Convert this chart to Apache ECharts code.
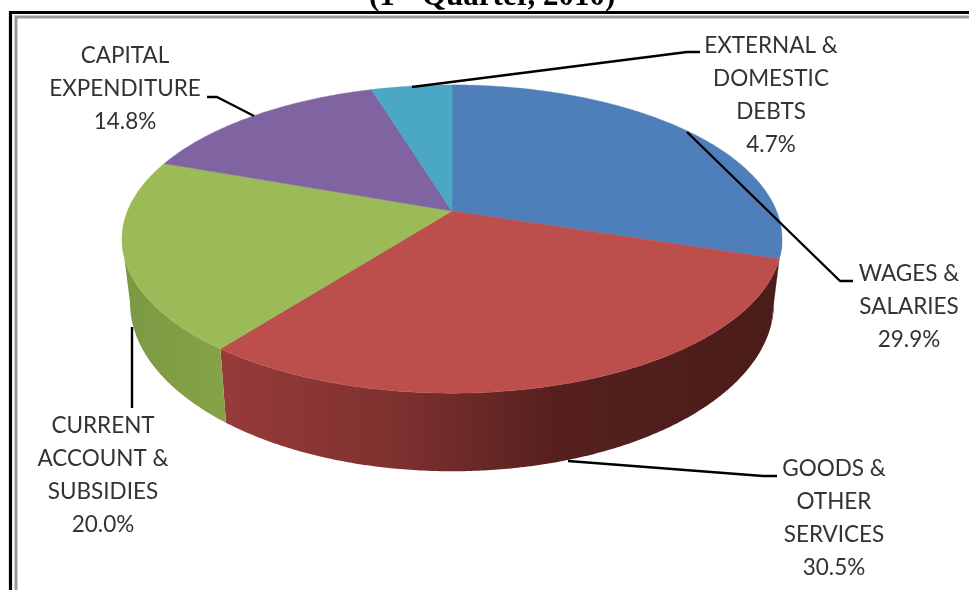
<!DOCTYPE html>
<html><head><meta charset="utf-8">
<style>html,body{margin:0;padding:0;background:#fff}#c{width:969px;height:590px}</style>
<script src="https://cdn.jsdelivr.net/npm/echarts@6/dist/echarts.min.js"></script>
</head><body><div id="c"></div>
<script>
// ---- data ----
const categories = ['WAGES &\nSALARIES','GOODS &\nOTHER\nSERVICES','CURRENT\nACCOUNT &\nSUBSIDIES','CAPITAL\nEXPENDITURE','EXTERNAL &\nDOMESTIC\nDEBTS'];
const values = [29.9, 30.5, 20.0, 14.8, 4.7];
const titleText = ['(1','st','Quarter, 2010)'];

// ---- styling ----
const topColors = ['#4f7fbb','#bc4f4c','#9bbb59','#8064a2','#4ba8c4'];
const wallStops = [
  [[0,'#4a1c1a'],[1,'#4a1c1a']],
  [[0,'#963b39'],[0.3,'#7f3230'],[0.6,'#56201e'],[1,'#4a1c1a']],
  [[0,'#7b9843'],[1,'#86a349']],
  null, null
];
const labelAnchors = [[909,307],[834,518],[103,475],[125,89],[771,95]];
const leaders = [
  [[687,132],[840,281],[853,281]],
  [[568,461],[763,476],[777,476]],
  [[132,327],[132,408]],
  [[207,97],[217,97],[254,116]],
  [[412,87],[687,52],[700,52]]
];

// ---- projection of the tilted disc ----
const cx = 452, tilt = 0.182;
const topFace = {cy:211, rx:324.5, ry:149};
const baseFace = {cy:272, rx:316.6, ry:163};
const visibleFrom = 100.5, visibleTo = 259.5; // silhouette angles of the side wall
const total = values.reduce((a,b)=>a+b,0);
const starts = []; { let acc = 0; values.forEach(v=>{ starts.push(acc/total*360); acc += v; }); }
function proj(f, deg){
  const t = deg*Math.PI/180, u = Math.sin(t), v = -Math.cos(t), s = 1/(1-tilt*v);
  return [cx + f.rx*u*s, f.cy + f.ry*v*s];
}
function arc(f, a, b){
  const n = Math.max(2, Math.ceil(Math.abs(b-a)*2)), pts = [];
  for(let i=0;i<=n;i++) pts.push(proj(f, a+(b-a)*i/n));
  return pts;
}
const labelFont = {fontFamily:'Lato, Carlito, sans-serif', fontSize:22.5, lineHeight:33, fill:'#333333'};

function renderWall(params){
  const i = params.dataIndex, a = Math.max(starts[i],visibleFrom), b = Math.min(starts[i]+values[i]/total*360,visibleTo);
  if(b<=a || !wallStops[i]) return {type:'group',children:[]};
  const pts = arc(topFace,a,b).concat(arc(baseFace,a,b).reverse());
  return {type:'polygon', shape:{points:pts},
    style:{fill:new echarts.graphic.LinearGradient(0,0,1,0,wallStops[i].map(s=>({offset:s[0],color:s[1]})))}};
}
function renderTop(params){
  const i = params.dataIndex, a = starts[i], b = a+values[i]/total*360;
  const pts = [[cx,topFace.cy]].concat(arc(topFace,a,b));
  return {type:'polygon', shape:{points:pts}, style:{fill:topColors[i], stroke:topColors[i], lineWidth:0.5}};
}
function renderLabel(params){
  const i = params.dataIndex;
  return {type:'group',children:[
    {type:'polyline',shape:{points:leaders[i]},style:{stroke:'#000',lineWidth:2.4,fill:null,lineJoin:'round'}},
    {type:'text',x:labelAnchors[i][0],y:labelAnchors[i][1],
      style:Object.assign({text:categories[i]+'\n'+values[i].toFixed(1)+'%',align:'center',verticalAlign:'middle'},labelFont)}
  ]};
}
const rows = values.map(v=>[v]);
const titleFont = 'bold 31px "Liberation Serif"';
const supFont = 'bold 20px "Liberation Serif"';
const chart = echarts.init(document.getElementById('c'),null,{renderer:'canvas'});
chart.setOption({
  animation:false,
  backgroundColor:'#fff',
  graphic:[
    {type:'rect',shape:{x:10.5,y:12.5,width:970,height:600},style:{fill:null,stroke:'#000',lineWidth:3.2},silent:true,z:1},
    {type:'rect',shape:{x:16,y:17,width:970,height:600},style:{fill:null,stroke:'#999',lineWidth:3},silent:true,z:1},
    {type:'text',x:369,y:-19,z:1,silent:true,style:{text:titleText[0],font:titleFont,fill:'#000',align:'left',verticalAlign:'top'}},
    {type:'text',x:396,y:-28,z:1,silent:true,style:{text:titleText[1],font:supFont,fill:'#000',align:'left',verticalAlign:'top'}},
    {type:'text',x:422,y:-19,z:1,silent:true,style:{text:titleText[2],font:titleFont,fill:'#000',align:'left',verticalAlign:'top'}}
  ],
  series:[
    {type:'custom',coordinateSystem:'none',data:rows,renderItem:renderWall,silent:true,z:2},
    {type:'custom',coordinateSystem:'none',data:rows,renderItem:renderTop,silent:true,z:3},
    {type:'custom',coordinateSystem:'none',data:rows,renderItem:renderLabel,silent:true,z:4}
  ]
});
</script></body></html>
